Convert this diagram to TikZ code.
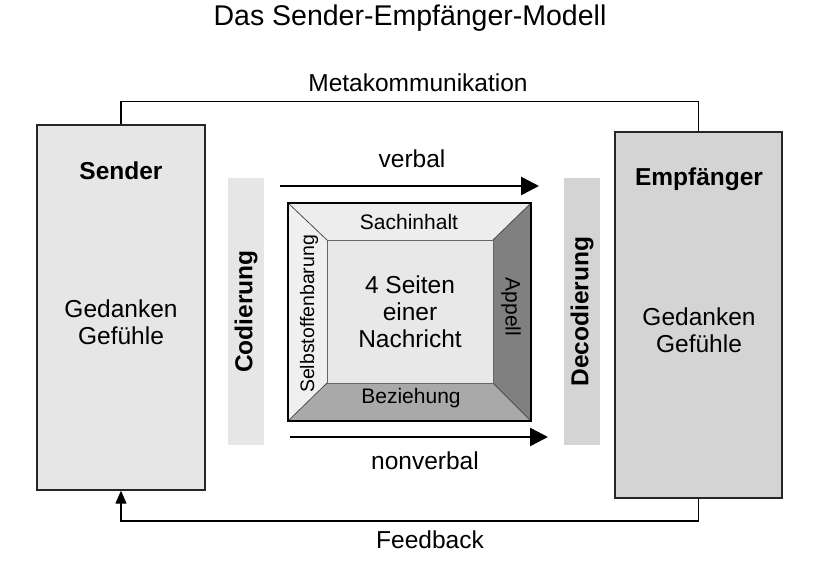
\documentclass[tikz,border=0pt]{standalone}
\usepackage{fontspec}
\setmainfont{Liberation Sans}
\usetikzlibrary{arrows.meta}
\definecolor{lg}{HTML}{E6E6E6}
\definecolor{mg}{HTML}{D4D4D4}
\definecolor{topc}{HTML}{EDEDED}
\definecolor{leftc}{HTML}{F0F0F0}
\definecolor{botc}{HTML}{A9A9A9}
\definecolor{rightc}{HTML}{808080}
\definecolor{cenc}{HTML}{E8E8E8}
\tikzset{
  big/.style={font=\fontsize{24.5}{27}\selectfont, align=center, inner sep=0pt},
  bigb/.style={font=\bfseries\fontsize{24.5}{27}\selectfont, align=center, inner sep=0pt},
  small/.style={font=\fontsize{21}{23}\selectfont, inner sep=0pt},
  party/.style={draw=black!85, line width=1.3pt, inner sep=0pt},
  bar/.style={inner sep=0pt, minimum width=36pt, minimum height=267pt},
  flow/.style={line width=2.5pt, -{Triangle[length=18pt,width=18pt]}},
  link/.style={line width=1.2pt},
}
\begin{document}
\begin{tikzpicture}[x=1pt,y=-1pt]
\useasboundingbox (0,0) rectangle (813,564);
% title
\node[font=\fontsize{28.5}{32}\selectfont, inner sep=0pt] (title) at (410,18) {Das Sender-Empfänger-Modell};
% parties
\node[party, fill=lg, minimum width=168pt, minimum height=365pt] (sender) at (121,307.5) {};
\node[party, fill=mg, minimum width=167pt, minimum height=366pt] (empf) at (698.5,315) {};
\node[bigb] (sname) at (121,171) {Sender};
\node[big] (sgf) at (121,322) {Gedanken\\Gefühle};
\node[bigb] (ename) at (699,179) {Empfänger};
\node[big] (egf) at (699,330) {Gedanken\\Gefühle};
% coding bars
\node[bar, fill=lg] (cod) at (246,311.5) {};
\node[bar, fill=mg] (dec) at (582,311.5) {};
\node[bigb, rotate=90] (codt) at (cod.center) {Codierung};
\node[bigb, rotate=90] (dect) at (dec.center) {Decodierung};
% metacommunication and feedback
\draw[link] (sender.north) -- ++(0,-23) coordinate (m1) -| (empf.north);
\node[big] (meta) at (418,83) {Metakommunikation};
\coordinate (f1) at (698.5,521);
\draw[link, -{Triangle[length=13pt,width=11pt]}] (empf.south) -- (f1) -| (sender.south);
\node[big] (fb) at (430,540) {Feedback};
% verbal / nonverbal
\coordinate (v1) at (280,186);
\coordinate (v2) at (539,186);
\draw[flow] (v1) -- (v2);
\node[big] (verbal) at (412,159) {verbal};
\coordinate (n1) at (290,437);
\coordinate (n2) at (548,437);
\draw[flow] (n1) -- (n2);
\node[big] (nonverbal) at (425,461) {nonverbal};
% four-sides square
\coordinate (A) at (288,203);
\coordinate (B) at (531,203);
\coordinate (C) at (531,421);
\coordinate (D) at (288,421);
\coordinate (a) at (327,240);
\coordinate (b) at (493,240);
\coordinate (c) at (493,383);
\coordinate (d) at (327,383);
\fill[topc] (A) -- (B) -- (b) -- (a) -- cycle;
\fill[rightc] (B) -- (C) -- (c) -- (b) -- cycle;
\fill[botc] (C) -- (D) -- (d) -- (c) -- cycle;
\fill[leftc] (D) -- (A) -- (a) -- (d) -- cycle;
\fill[cenc] (a) rectangle (c);
\draw[black!70, line width=0.8pt] (A) -- (a) (B) -- (b) (C) -- (c) (D) -- (d);
\draw[black!60, line width=1pt] (a) rectangle (c);
\draw[black, line width=1.6pt] (A) rectangle (C);
\node[small] (sach) at (409,222) {Sachinhalt};
\node[small] (bez) at (411,398) {Beziehung};
\node[small, font=\fontsize{19.5}{22}\selectfont, rotate=90] (selbst) at (309,314) {Selbstoffenbarung};
\node[small, rotate=-90] (app) at (511,307) {Appell};
\node[big] (vier) at (410,312) {4 Seiten\\einer\\Nachricht};
\end{tikzpicture}
\end{document}
